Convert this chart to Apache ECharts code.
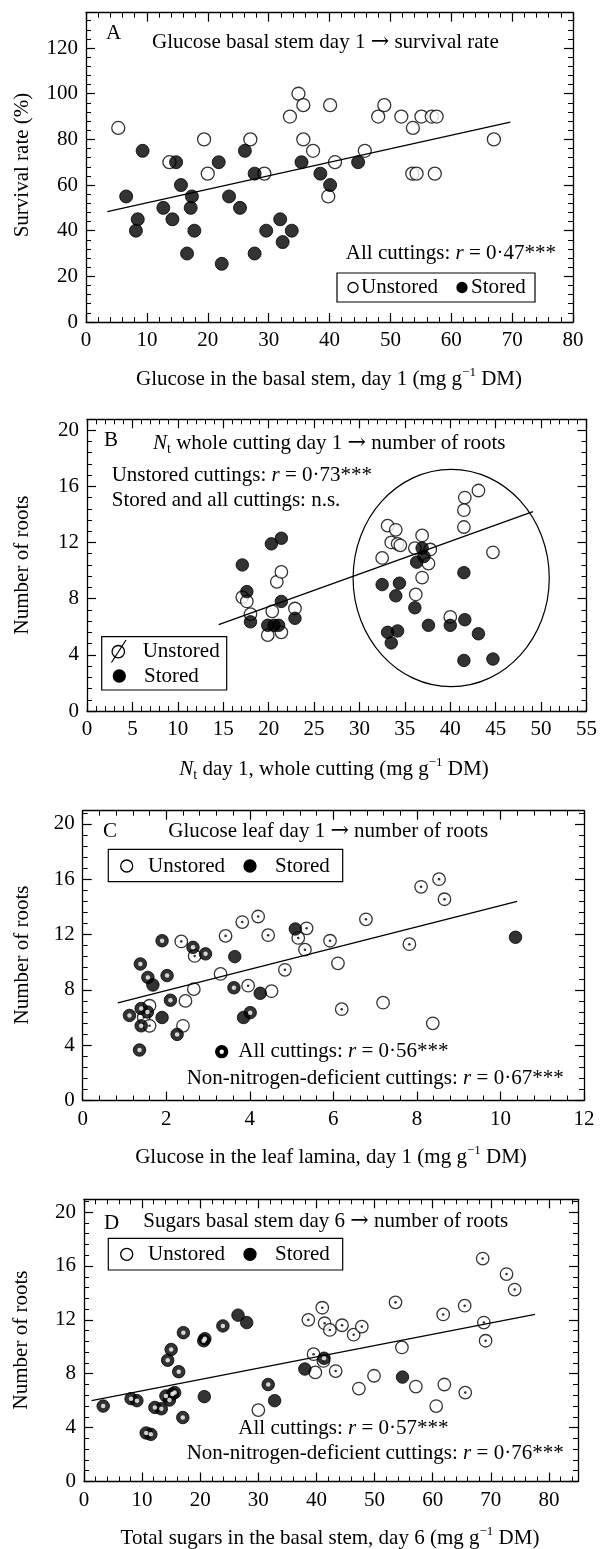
<!DOCTYPE html>
<html><head><meta charset="utf-8">
<script src="https://cdn.jsdelivr.net/npm/echarts@6/dist/echarts.min.js"></script>
<style>html,body{margin:0;padding:0;background:#fff}#c{width:600px;height:1549px}</style>
</head><body><div id="c"></div>
<script>
// ---------- Panel A : glucose basal stem day 1 vs survival rate ----------
const aXTicks = [0,10,20,30,40,50,60,70,80];
const aYTicks = [0,20,40,60,80,100,120];
const aUnstored = [[5.3,85],[19.4,80],[13.7,70],[20,65],[27,80],[29.3,65],[34.9,100],[33.5,90],[35.7,95],[40.1,95],[35.7,80],[37.3,75],[40.9,70],[39.8,55],[45.8,75],[48,90],[49,95],[51.8,90],[53.7,85],[55.1,90],[56.8,90],[57.6,90],[53.6,65],[54.3,65],[57.3,65],[67,80]];
const aStored = [[9.3,75],[6.6,55],[8.5,45],[8.2,40],[12.7,50],[14.2,45],[14.8,70],[15.6,60],[17.4,55],[17.2,50],[17.8,40],[16.6,30],[21.8,70],[22.3,25.5],[23.5,55],[25.3,50],[26.1,75],[27.7,65],[27.7,30],[29.6,40],[31.9,45],[32.3,35],[33.8,40],[35.4,70],[38.5,65],[40.1,60],[44.7,70]];
const aLine = [[3.5,48.4],[69.7,87.6]];

// ---------- Panel B : Nt whole cutting day 1 vs number of roots ----------
const bXTicks = [0,5,10,15,20,25,30,35,40,45,50,55];
const bYTicks = [0,4,8,12,16,20];
const bUnstored = [[17.1,8.1],[17.6,7.8],[18,6.9],[19.9,5.4],[20.4,7.1],[20.9,9.2],[21.4,9.9],[21.4,5.6],[22.9,7.3],[32.5,10.9],[33.1,13.2],[34,12.9],[33.5,12],[34.2,11.9],[34.5,11.8],[36.9,12.5],[36.1,11.6],[37.8,11.5],[37.6,10.5],[36.9,9.5],[36.2,8.3],[40,6.7],[41.6,15.2],[43.1,15.7],[41.5,14.3],[41.5,13.1],[44.7,11.3]];
const bStored = [[17.1,10.4],[17.6,8.5],[18,6.35],[20.3,11.9],[21.4,12.3],[21.4,7.8],[19.9,6.1],[20.6,6.1],[21.1,6.1],[22.9,6.6],[32.5,9.0],[34.4,9.1],[34,8.2],[36.9,11.6],[36.3,10.6],[37.1,11.0],[36.1,7.35],[33.1,5.6],[34.2,5.7],[33.5,4.85],[37.6,6.1],[40,6.1],[41.6,6.5],[41.5,9.85],[43.1,5.5],[41.5,3.6],[44.7,3.7]];
const bLine = [[14.5,6.15],[49.1,14.2]];
const bEllipse = [[40.1,9.47,10.8,7.74]]; // centre x, centre y, half width, half height

// ---------- Panel C : glucose leaf day 1 vs number of roots ----------
const cXTicks = [0,2,4,6,8,10,12];
const cYTicks = [0,4,8,12,16,20];
const cUnstoredPlain = [[1.6,6.85],[2.4,5.4],[2.46,7.2],[2.66,8.05],[3.3,9.15],[4.52,7.9],[6.11,9.92],[7.19,7.07],[8.38,5.58]];
const cUnstoredDot = [[2.36,11.5],[2.68,10.45],[3.42,11.9],[3.82,12.9],[4.2,13.3],[4.44,11.95],[3.96,8.3],[4.84,9.45],[5.16,11.75],[5.36,12.45],[5.32,10.9],[5.92,11.55],[6.2,6.6],[6.78,13.1],[7.82,11.3],[8.1,15.45],[8.53,16],[8.66,14.55],[1.46,6.0],[1.6,5.4]];
const cStoredPlain = [[1.9,6.0],[1.68,8.35],[3.64,10.4],[3.85,6.0],[4.25,7.75],[5.09,12.4],[10.36,11.8]];
const cStoredDot = [[1.12,6.15],[1.4,6.65],[1.55,6.4],[1.4,5.4],[1.36,3.65],[1.38,9.87],[1.56,8.9],[1.9,11.55],[2.02,9.03],[2.1,7.25],[2.26,4.78],[2.64,11.07],[2.94,10.6],[3.62,8.15],[4.01,6.35]];
const cLine = [[0.84,7.05],[10.4,14.4]];

// ---------- Panel D : sugars basal stem day 6 vs number of roots ----------
const dXTicks = [0,10,20,30,40,50,60,70,80];
const dYTicks = [0,4,8,12,16,20];
const dUnstoredPlain = [[30,5.3],[39.8,8.1],[49.9,7.85],[47.3,6.9],[54.7,9.95],[57.1,7.05],[60.6,5.6],[62,7.2]];
const dUnstoredDot = [[38.6,12.0],[41,12.9],[41.4,11.75],[42.3,11.25],[44.4,11.6],[46.4,10.9],[47.8,11.5],[39.5,9.45],[41.2,8.95],[43.3,8.2],[53.6,13.3],[61.8,12.4],[65.5,13.05],[68.6,16.55],[72.7,15.4],[74.1,14.25],[68.8,11.8],[69.1,10.45],[65.6,6.6]];
const dStoredPlain = [[26.5,12.35],[28,11.8],[20.7,6.3],[32.8,6.0],[38,8.35],[54.8,7.75]];
const dStoredDot = [[3.3,5.6],[8.1,6.15],[9.1,6.0],[10.7,3.6],[11.5,3.5],[12.2,5.5],[13.3,5.4],[14.1,6.35],[14.7,6.05],[15.2,6.5],[15.6,6.6],[14.4,9.0],[15,9.8],[16.3,8.15],[17.1,11.05],[17,4.75],[20.6,10.45],[20.8,10.6],[23.9,11.55],[31.7,7.2],[41.3,9.15]];
const dLine = [[1.3,6.0],[77.6,12.4]];

// ---------- styling / layout ----------
const INK = '#000';
const FF = "'Liberation Serif','Times New Roman','DejaVu Serif',serif";
const FS = 21;

const grids = [
  {left:86, top:12.7, width:487, height:309.3},
  {left:87, top:419.3, width:503, height:291.7},
  {left:82.7, top:810.7, width:501.3, height:289.8},
  {left:84, top:1199.3, width:494, height:282.2}
];
const panels = [
  {x:[0,80], y:[0,135.5], xt:aXTicks, yt:aYTicks, xm:2, ym:4},
  {x:[0,55], y:[0,20.77], xt:bXTicks, yt:bYTicks, xm:1, ym:0.8},
  {x:[0,12], y:[0,20.95], xt:cXTicks, yt:cYTicks, xm:0.4, ym:0.8},
  {x:[0,85], y:[0,20.95], xt:dXTicks, yt:dYTicks, xm:2, ym:0.8}
];

function steps(max, step){ const a=[]; for(let k=0; k*step<=max+1e-9; k++) a.push(+(k*step).toFixed(4)); return a; }

const xAxes=[], yAxes=[];
panels.forEach((p,gi)=>{
  const lab = {fontFamily:FF,fontSize:FS,color:INK};
  [['bottom','top'],['left','right']].forEach((pair,d)=>{
    const rng = d===0?p.x:p.y, maj = d===0?p.xt:p.yt, mstep = d===0?p.xm:p.ym;
    const arr = d===0?xAxes:yAxes;
    pair.forEach((pos,j)=>{
      arr.push({type:'value',gridIndex:gi,position:pos,min:rng[0],max:rng[1],
        axisLine:{show:true,onZero:false,lineStyle:{color:INK,width:1.3}},
        axisTick:{show:true,inside:true,length:9,customValues:maj,lineStyle:{color:INK,width:1.2}},
        axisLabel:j===0?Object.assign({show:true,customValues:maj,margin:8},lab):{show:false},
        splitLine:{show:false}});
      arr.push({type:'value',gridIndex:gi,position:pos,min:rng[0],max:rng[1],
        axisLine:{show:false,onZero:false},
        axisTick:{show:true,inside:true,length:5,customValues:steps(rng[1],mstep),lineStyle:{color:INK,width:1}},
        axisLabel:{show:false},splitLine:{show:false}});
    });
  });
});

function sc(gi,data,kind,size){
  return {type:'scatter',xAxisIndex:gi*4,yAxisIndex:gi*4,data,symbol:'circle',symbolSize:size,silent:true,emphasis:{disabled:true},
    itemStyle: kind==='open'?{color:'#fff',borderColor:INK,borderWidth:1.3}:{color:INK,borderColor:INK,borderWidth:1}};
}
function dots(gi,data,color,size){
  return {type:'scatter',xAxisIndex:gi*4,yAxisIndex:gi*4,data,symbol:'circle',symbolSize:size,silent:true,emphasis:{disabled:true},itemStyle:{color}};
}
function reg(gi,data){
  return {type:'line',xAxisIndex:gi*4,yAxisIndex:gi*4,data,symbol:'none',silent:true,lineStyle:{color:INK,width:1.3}};
}

const series = [
  reg(0,aLine), sc(0,aUnstored,'open',13), sc(0,aStored,'fill',13),
  reg(1,bLine),
  {type:'custom',xAxisIndex:4,yAxisIndex:4,data:bEllipse,silent:true,
    renderItem:(params,api)=>{const c=api.coord([api.value(0),api.value(1)]);const s=api.size([api.value(2),api.value(3)]);
      return {type:'ellipse',shape:{cx:c[0],cy:c[1],rx:s[0],ry:s[1]},style:{fill:'none',stroke:INK,lineWidth:1.2}};}},
  sc(1,bUnstored,'open',12.5), sc(1,bStored,'fill',12.5),
  reg(2,cLine), sc(2,cUnstoredPlain,'open',12.5), sc(2,cUnstoredDot,'open',12.5), dots(2,cUnstoredDot,INK,2.6),
  sc(2,cStoredPlain,'fill',12.5), sc(2,cStoredDot,'fill',12.5), dots(2,cStoredDot,'#fff',4.5),
  reg(3,dLine), sc(3,dUnstoredPlain,'open',12.5), sc(3,dUnstoredDot,'open',12.5), dots(3,dUnstoredDot,INK,2.6),
  sc(3,dStoredPlain,'fill',12.5), sc(3,dStoredDot,'fill',12.5), dots(3,dStoredDot,'#fff',4.5)
];

const R = {
  n:{fontFamily:FF,fontSize:FS,lineHeight:26,fill:INK,color:INK},
  i:{fontFamily:FF,fontSize:FS,fontStyle:'italic',lineHeight:26,fill:INK,color:INK},
  ar:{fontFamily:"'DejaVu Serif',serif",fontSize:22,lineHeight:26,fill:INK,color:INK},
  sup:{fontFamily:FF,fontSize:13,lineHeight:16,verticalAlign:'top',fill:INK,color:INK},
  sub:{fontFamily:FF,fontSize:14,lineHeight:14,verticalAlign:'bottom',fill:INK,color:INK}
};
function T(x,y,text,align,rot){
  const e={type:'text',x,y,silent:true,z:10,style:{text,rich:R,fontFamily:FF,fontSize:FS,fill:INK,
    align:align||'left',textAlign:align||'left',verticalAlign:'middle',textVerticalAlign:'middle'}};
  if(rot) e.rotation=rot;
  return e;
}
function box(x,y,w,h){return {type:'rect',z:9,silent:true,shape:{x,y,width:w,height:h},style:{fill:'#fff',stroke:INK,lineWidth:1.2}};}
function circ(cx,cy,r,fill){return {type:'circle',z:10,silent:true,shape:{cx,cy,r},style:{fill,stroke:INK,lineWidth:1.3}};}

const graphic = [
  // Panel A
  T(106,33,'A'), T(152,42,'{n|Glucose basal stem day 1 }{ar|→}{n| survival rate}'),
  T(556,253,'{n|All cuttings: }{i|r}{n| = 0·47***}','right'),
  box(337,273,198,29), circ(353,287.5,5,'#fff'), T(361,287.5,'Unstored'), circ(462,287.5,5,INK), T(471,287.5,'Stored'),
  T(22,165,'Survival rate (%)','center',Math.PI/2),
  T(329,379,'{n|Glucose in the basal stem, day 1 (mg g}{sup|−1}{n| DM)}','center'),
  // Panel B
  T(104,440,'B'), T(153,443,'{i|N}{sub|t}{n| whole cutting day 1 }{ar|→}{n| number of roots}'),
  T(111.7,475,'{n|Unstored cuttings: }{i|r}{n| = 0·73***}'),
  T(111.7,500,'Stored and all cuttings: n.s.'),
  box(101.7,636.7,125,53.3), circ(118.3,651.7,6.2,'#fff'),
  {type:'line',z:11,silent:true,shape:{x1:111.5,y1:662.5,x2:126,y2:640},style:{stroke:INK,lineWidth:1.2}},
  T(142.7,651.7,'Unstored'), circ(119.3,676,6,INK), T(144,676,'Stored'),
  T(22,565,'Number of roots','center',Math.PI/2),
  T(334,769,'{i|N}{sub|t}{n| day 1, whole cutting (mg g}{sup|−1}{n| DM)}','center'),
  // Panel C
  T(103,831.7,'C'), T(168.3,831.7,'{n|Glucose leaf day 1 }{ar|→}{n| number of roots}'),
  box(108.3,849.3,234.4,32.4), circ(126.7,866,6,'#fff'), T(148,866,'Unstored'), circ(250,866,6,INK), T(275,866,'Stored'),
  circ(221.7,1051.7,6,INK), {type:'circle',z:11,silent:true,shape:{cx:221.7,cy:1051.7,r:2.2},style:{fill:'#fff'}},
  T(238.3,1051.7,'{n|All cuttings: }{i|r}{n| = 0·56***}'),
  T(186.7,1078,'{n|Non-nitrogen-deficient cuttings: }{i|r}{n| = 0·67***}'),
  T(22,955,'Number of roots','center',Math.PI/2),
  T(331,1157,'{n|Glucose in the leaf lamina, day 1 (mg g}{sup|−1}{n| DM)}','center'),
  // Panel D
  T(104,1223,'D'), T(143.3,1221,'{n|Sugars basal stem day 6 }{ar|→}{n| number of roots}'),
  box(108.3,1238.3,234.4,31.7), circ(126.7,1254.3,6,'#fff'), T(148,1254.3,'Unstored'), circ(250,1254.3,6,INK), T(275,1254.3,'Stored'),
  T(238.3,1428.3,'{n|All cuttings: }{i|r}{n| = 0·57***}'),
  T(186.7,1453.3,'{n|Non-nitrogen-deficient cuttings: }{i|r}{n| = 0·76***}'),
  T(21,1340,'Number of roots','center',Math.PI/2),
  T(330,1538,'{n|Total sugars in the basal stem, day 6 (mg g}{sup|−1}{n| DM)}','center')
];

const chart = echarts.init(document.getElementById('c'), null, {renderer:'canvas'});
chart.setOption({
  animation:false, backgroundColor:'#fff',
  grid:grids, xAxis:xAxes, yAxis:yAxes, series, graphic
});
</script></body></html>
